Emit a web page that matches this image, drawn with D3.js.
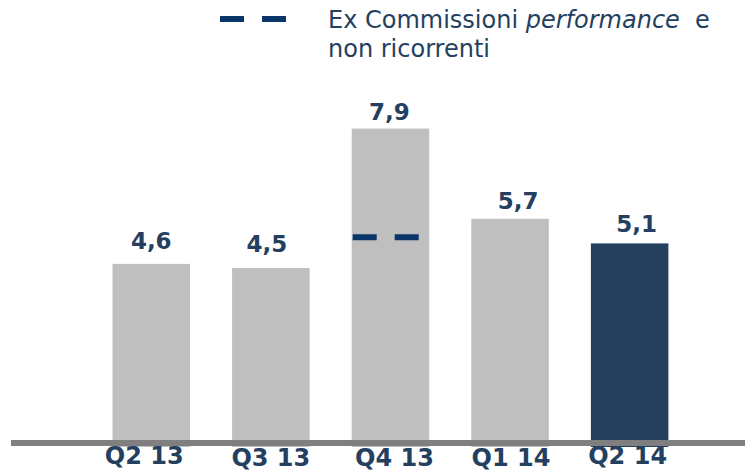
<!DOCTYPE html>
<html>
<head>
<meta charset="utf-8">
<script src="https://cdn.jsdelivr.net/npm/d3@7/dist/d3.min.js"></script>
<style>
  html, body { margin: 0; padding: 0; background: #ffffff; }
  svg { display: block; }
</style>
</head>
<body>
<svg id="chart" width="745" height="472"></svg>
<script>
// ---- data ----
const categories = ["Q2 13", "Q3 13", "Q4 13", "Q1 14", "Q2 14"];
const values = [4.6, 4.5, 7.9, 5.7, 5.1];
const valueLabels = ["4,6", "4,5", "7,9", "5,7", "5,1"];
const exCommissionCategory = ["Q4 13"];
const exCommissionValue = [5.25];
const legendLines = ["Ex Commissioni ", "performance", "  e", "non ricorrenti"];

// ---- layout ----
const W = 745, H = 472;
const svg = d3.select("#chart");
const textColor = "#243f60";
const grayBar = "#bfbfbf";
const darkBar = "#253f5f";
const dashColor = "#0a3568";
const axisColor = "#7f7f7f";

const x = d3.scaleBand()
  .domain(categories)
  .range([91.45, 689.45])
  .paddingInner(0.352)
  .paddingOuter(0.176);

const y = d3.scaleLinear().domain([0, 8]).range([452.5, 124.5]);
const barBottom = 447;

// bars
svg.append("g").selectAll("rect")
  .data(categories)
  .join("rect")
  .attr("x", d => x(d))
  .attr("y", (d, i) => y(values[i]))
  .attr("width", x.bandwidth())
  .attr("height", (d, i) => barBottom - y(values[i]))
  .attr("fill", (d, i) => i === categories.length - 1 ? darkBar : grayBar);

// ex-commission dashed marker
svg.append("g").selectAll("line")
  .data(exCommissionCategory)
  .join("line")
  .attr("x1", d => x(d) + 1)
  .attr("x2", d => x(d) + 67)
  .attr("y1", (d, i) => y(exCommissionValue[i]))
  .attr("y2", (d, i) => y(exCommissionValue[i]))
  .attr("stroke", dashColor)
  .attr("stroke-width", 6)
  .attr("stroke-dasharray", "24 18");

// axis baseline
svg.append("line")
  .attr("x1", 11).attr("x2", W)
  .attr("y1", 443).attr("y2", 443)
  .attr("stroke", axisColor)
  .attr("stroke-width", 6);

// value labels
const valueDx = [0, -4, -1, 8, 7];
const valueGap = [15, 16, 9, 10, 11];
svg.append("g").selectAll("text")
  .data(categories)
  .join("text")
  .attr("x", (d, i) => x(d) + x.bandwidth() / 2 + valueDx[i])
  .attr("y", (d, i) => y(values[i]) - valueGap[i])
  .attr("text-anchor", "middle")
  .attr("font-family", "'DejaVu Sans', Verdana, sans-serif")
  .attr("font-weight", "bold")
  .attr("font-size", 23)
  .attr("fill", textColor)
  .text((d, i) => valueLabels[i]);

// category labels
const catDx = [-7, 0, 4, 1, -2];
const catBase = [464, 466, 466, 466, 464];
svg.append("g").selectAll("text")
  .data(categories)
  .join("text")
  .attr("x", (d, i) => x(d) + x.bandwidth() / 2 + catDx[i])
  .attr("y", (d, i) => catBase[i])
  .attr("text-anchor", "middle")
  .attr("font-family", "'DejaVu Sans', Verdana, sans-serif")
  .attr("font-weight", "bold")
  .attr("font-size", 24)
  .attr("fill", textColor)
  .text(d => d);

// legend
const lg = svg.append("g");
lg.append("line")
  .attr("x1", 220).attr("x2", 287)
  .attr("y1", 19).attr("y2", 19)
  .attr("stroke", dashColor)
  .attr("stroke-width", 6)
  .attr("stroke-dasharray", "24 18");

const t1 = lg.append("text")
  .attr("x", 328).attr("y", 28)
  .attr("font-family", "'DejaVu Sans', Verdana, sans-serif")
  .attr("font-size", 24)
  .attr("fill", textColor)
  .attr("xml:space", "preserve")
  .style("white-space", "pre");
t1.append("tspan").text(legendLines[0]);
t1.append("tspan").attr("font-style", "italic").text(legendLines[1]);
t1.append("tspan").text(legendLines[2]);

lg.append("text")
  .attr("x", 328).attr("y", 57)
  .attr("font-family", "'DejaVu Sans', Verdana, sans-serif")
  .attr("font-size", 24)
  .attr("fill", textColor)
  .text(legendLines[3]);
</script>
</body>
</html>
